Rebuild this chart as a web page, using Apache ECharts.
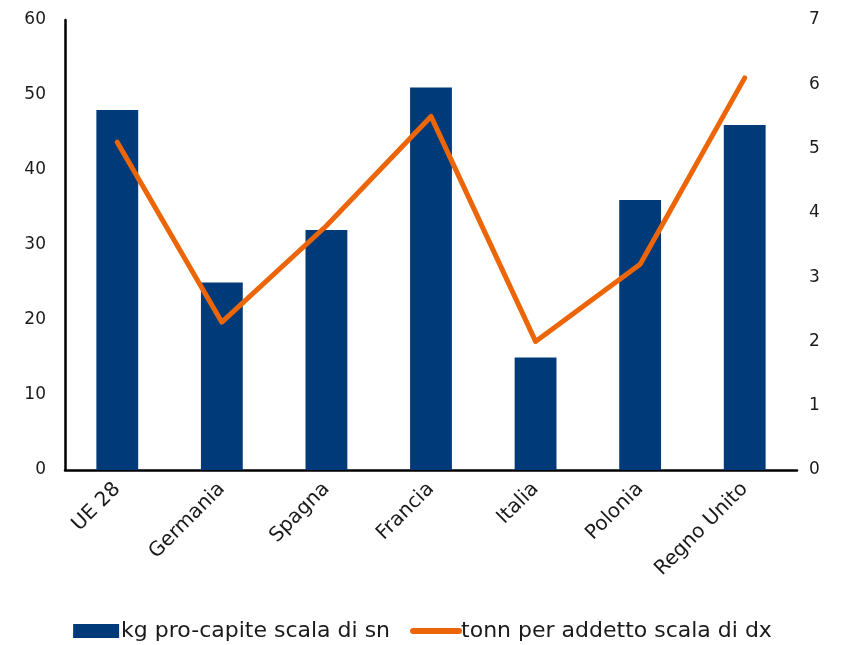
<!DOCTYPE html>
<html>
<head>
<meta charset="utf-8">
<script src="https://cdn.jsdelivr.net/npm/echarts@6/dist/echarts.min.js"></script>
<style>
html,body{margin:0;padding:0;background:#fff;}
#chart{width:845px;height:645px;}
</style>
</head>
<body>
<div id="chart"></div>
<script>
const categories = ['UE 28', 'Germania', 'Spagna', 'Francia', 'Italia', 'Polonia', 'Regno Unito'];
const kgProCapite = [48, 25, 32, 51, 15, 36, 46];
const tonnPerAddetto = [5.1, 2.3, 3.8, 5.5, 2.0, 3.2, 6.1];
const leftTicks = [0, 10, 20, 30, 40, 50, 60];
const rightTicks = [0, 1, 2, 3, 4, 5, 6, 7];

const FONT = '"DejaVu Sans", sans-serif';
const chart = echarts.init(document.getElementById('chart'));
chart.setOption({
  animation: false,
  textStyle: { fontFamily: FONT },
  grid: { left: 65, right: 48, top: 20, bottom: 175 },
  legend: {
    bottom: -2,
    left: 'center',
    itemGap: 20,
    itemWidth: 46,
    itemHeight: 14,
    textStyle: { fontSize: 22, color: '#1a1a1a', fontFamily: FONT, padding: [0, 0, 0, -3] },
    data: [
      { name: 'kg pro-capite scala di sn', icon: 'rect' },
      {
        name: 'tonn per addetto scala di dx',
        itemStyle: { opacity: 0 },
        lineStyle: { width: 6, color: '#ec6608', cap: 'round' }
      }
    ]
  },
  xAxis: {
    type: 'category',
    data: categories,
    axisLine: { lineStyle: { color: '#000', width: 2.5 } },
    axisTick: { show: false },
    axisLabel: { rotate: 45, fontSize: 20, color: '#1a1a1a', margin: 16, interval: 0, fontFamily: FONT }
  },
  yAxis: [
    {
      type: 'value', min: leftTicks[0], max: leftTicks[leftTicks.length - 1], interval: 10,
      axisLine: { show: true, lineStyle: { color: '#000', width: 2.5 } },
      axisTick: { show: false },
      splitLine: { show: false },
      axisLabel: { fontSize: 17, color: '#1a1a1a', margin: 19, fontFamily: FONT }
    },
    {
      type: 'value', min: rightTicks[0], max: rightTicks[rightTicks.length - 1], interval: 1,
      position: 'right',
      axisLine: { show: false },
      axisTick: { show: false },
      splitLine: { show: false },
      axisLabel: { fontSize: 17, color: '#1a1a1a', margin: 12, fontFamily: FONT }
    }
  ],
  series: [
    {
      name: 'kg pro-capite scala di sn',
      type: 'bar',
      yAxisIndex: 0,
      data: kgProCapite,
      barWidth: '40%',
      itemStyle: { color: '#003a78' }
    },
    {
      name: 'tonn per addetto scala di dx',
      type: 'line',
      yAxisIndex: 1,
      data: tonnPerAddetto,
      symbol: 'none',
      lineStyle: { color: '#ec6608', width: 5, cap: 'round', join: 'round' },
      itemStyle: { color: '#ec6608' }
    }
  ]
});
</script>
</body>
</html>
